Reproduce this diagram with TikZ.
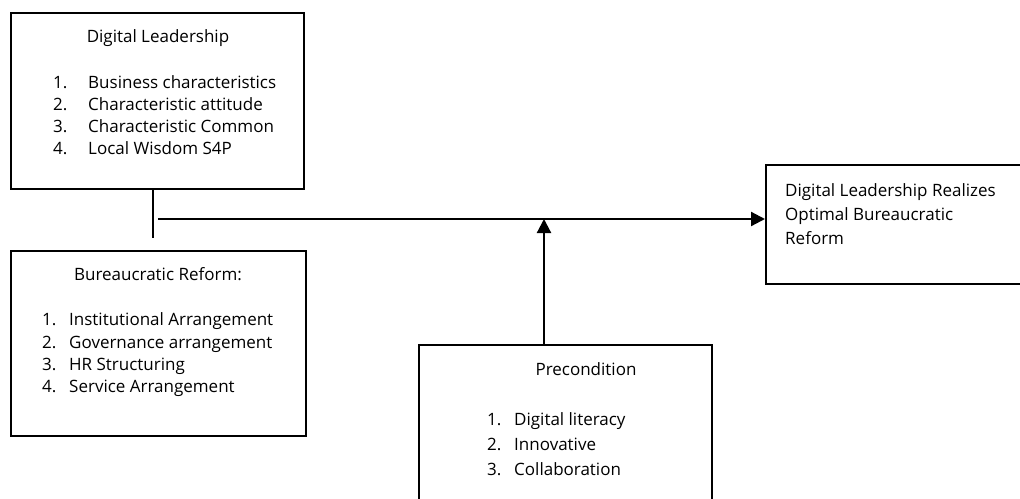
\documentclass[tikz,border=0pt]{standalone}
\usepackage{fontspec}
\setmainfont{Open Sans}
\usetikzlibrary{arrows.meta}
\begin{document}
\begin{tikzpicture}[x=1pt,y=-1pt,
  box/.style={draw,line width=2.2pt,inner sep=0pt,anchor=north west},
  txt/.style={anchor=base west,inner sep=0pt,font=\fontsize{17}{25}\selectfont},
  ttl/.style={anchor=base,inner sep=0pt,font=\fontsize{17}{25}\selectfont},
  conn/.style={line width=2.2pt},
  arr/.style={conn,-{Triangle[length=14pt,width=14pt]}}]
\useasboundingbox (0,0) rectangle (1020,498);
% boxes
\node[box,minimum width=293pt,minimum height=176pt] (b1) at (10,12) {};
\node[box,minimum width=295pt,minimum height=185pt] (b2) at (10,250) {};
\node[box,minimum width=293pt,minimum height=180pt] (b3) at (418,344) {};
\node[box,minimum width=258pt,minimum height=119pt] (b4) at (765,164) {};
% box 1 text
\node[ttl] (t1) at (158,42.5) {Digital Leadership};
\node[txt] (n11) at (53,88.5) {1.};  \node[txt] (i11) at (88,88.5) {Business characteristics};
\node[txt] (n12) at (53,110.5) {2.}; \node[txt] (i12) at (88,110.5) {Characteristic attitude};
\node[txt] (n13) at (53,132.5) {3.}; \node[txt] (i13) at (88,132.5) {Characteristic Common};
\node[txt] (n14) at (53,154.5) {4.}; \node[txt] (i14) at (88,154.5) {Local Wisdom S4P};
% box 2 text
\node[ttl] (t2) at (158,280.7) {Bureaucratic Reform:};
\node[txt] (n21) at (42,325.7) {1.}; \node[txt] (i21) at (69,325.7) {Institutional Arrangement};
\node[txt] (n22) at (42,348) {2.};   \node[txt] (i22) at (69,348) {Governance arrangement};
\node[txt] (n23) at (42,370) {3.};   \node[txt] (i23) at (69,370) {HR Structuring};
\node[txt] (n24) at (42,392.3) {4.}; \node[txt] (i24) at (69,392.3) {Service Arrangement};
% box 3 text
\node[ttl] (t3) at (586,375) {Precondition};
\node[txt] (n31) at (487,425) {1.}; \node[txt] (i31) at (514,425) {Digital literacy};
\node[txt] (n32) at (487,450) {2.}; \node[txt] (i32) at (514,450) {Innovative};
\node[txt] (n33) at (487,475) {3.}; \node[txt] (i33) at (514,475) {Collaboration};
% box 4 text
\node[txt] (r1) at (785,196) {Digital Leadership Realizes};
\node[txt] (r2) at (785,220) {Optimal Bureaucratic};
\node[txt] (r3) at (785,244) {Reform};
% connectors
\coordinate (tk1) at (153,188);
\coordinate (tk2) at (153,238);
\coordinate (hs) at (158,219);
\coordinate (mid) at (544,219);
\draw[conn] (tk1) -- (tk2);
\draw[arr] (hs) -- (hs -| b4.west);
\draw[arr] (b3.north -| mid) -- (mid);
\end{tikzpicture}
\end{document}
